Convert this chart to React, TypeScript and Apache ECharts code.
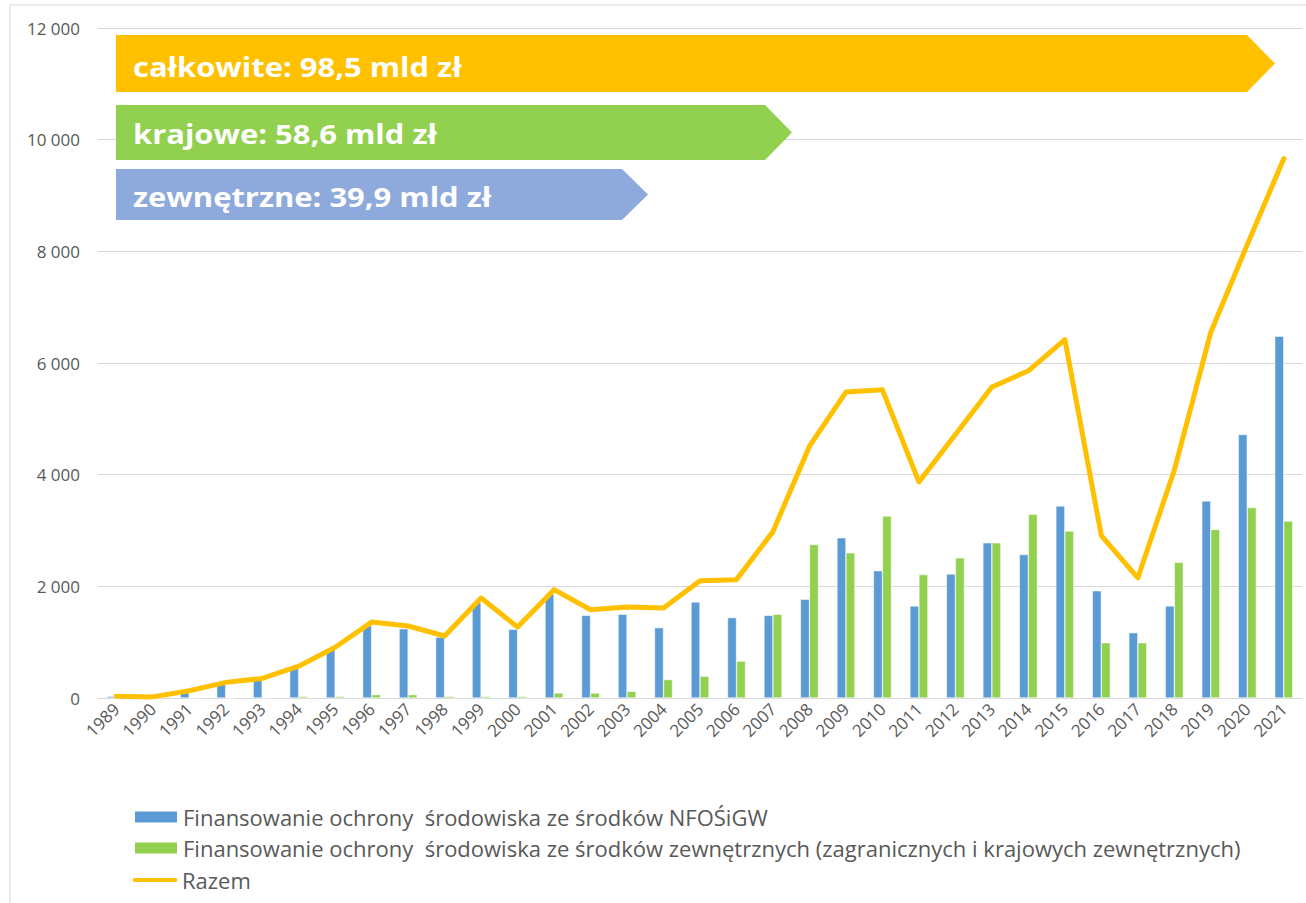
import React, { useEffect, useRef } from "react";
import * as echarts from "echarts";

const years = [
  "1989", "1990", "1991", "1992", "1993", "1994", "1995", "1996", "1997", "1998",
  "1999", "2000", "2001", "2002", "2003", "2004", "2005", "2006", "2007", "2008",
  "2009", "2010", "2011", "2012", "2013", "2014", "2015", "2016", "2017", "2018",
  "2019", "2020", "2021",
];

const nfosigw = [
  30, 10, 100, 270, 330, 560, 880, 1300, 1240, 1090,
  1710, 1230, 1860, 1480, 1500, 1260, 1720, 1440, 1480, 1770,
  2870, 2280, 1650, 2220, 2780, 2570, 3440, 1920, 1170, 1650,
  3530, 4720, 6480,
];

const zewnetrzne = [
  0, 0, 0, 0, 0, 30, 30, 60, 60, 30,
  30, 30, 90, 90, 120, 330, 390, 660, 1500, 2750,
  2600, 3260, 2210, 2510, 2780, 3290, 2990, 990, 990, 2430,
  3020, 3410, 3170,
];

const razem = [
  30, 20, 130, 280, 350, 570, 910, 1360, 1290, 1110,
  1790, 1270, 1940, 1580, 1630, 1610, 2100, 2120, 2980, 4510,
  5480, 5520, 3870, 4720, 5570, 5860, 6420, 2910, 2150, 4080,
  6550, 8120, 9660,
];

const seriesNames = [
  "Finansowanie ochrony  środowiska ze środków NFOŚiGW",
  "Finansowanie ochrony  środowiska ze środków zewnętrznych (zagranicznych i krajowych zewnętrznych)",
  "Razem",
];

const arrowLabels = [
  "całkowite: 98,5 mld zł",
  "krajowe: 58,6 mld zł",
  "zewnętrzne: 39,9 mld zł",
];

const FONT = "'Open Sans', 'Noto Sans', sans-serif";

function arrow(x0: number, y0: number, x1: number, tip: number, y1: number, color: string) {
  return {
    type: "polygon",
    shape: {
      points: [
        [x0, y0],
        [x1, y0],
        [tip, (y0 + y1) / 2],
        [x1, y1],
        [x0, y1],
      ],
    },
    style: { fill: color },
    z: 10,
  };
}

function label(text: string, x: number, y: number) {
  return {
    type: "text",
    x,
    y,
    scaleX: 1.19,
    style: {
      text,
      fill: "#ffffff",
      font: `bold 26px ${FONT}`,
      verticalAlign: "middle",
    },
    z: 11,
  };
}

function legendItem(name: string, top: number, icon: string, h: number) {
  return {
    orient: "vertical",
    left: 128,
    top,
    itemWidth: 44,
    itemHeight: h,
    selectedMode: false,
    textStyle: { fontSize: 22, color: "#595959", fontFamily: FONT },
    data: [{ name, icon }],
  };
}

export default function App() {
  const ref = useRef<HTMLDivElement>(null);

  useEffect(() => {
    document.body.style.margin = "0";
    if (!ref.current) return;
    const chart = echarts.init(ref.current, null, { renderer: "svg" });
    chart.setOption({
      animation: false,
      backgroundColor: "#ffffff",
      textStyle: { fontFamily: FONT },
      grid: { left: 98, right: 4, top: 28, bottom: 205, containLabel: false },
      legend: [
        legendItem(seriesNames[0], 801, "rect", 13),
        legendItem(seriesNames[1], 832, "rect", 13),
        legendItem(seriesNames[2], 864, "roundRect", 4),
      ],
      xAxis: {
        type: "category",
        data: years,
        axisLine: { lineStyle: { color: "#d9d9d9", width: 1 } },
        axisTick: { show: false },
        axisLabel: {
          rotate: 45,
          interval: 0,
          fontSize: 17,
          color: "#595959",
          fontFamily: FONT,
          margin: 8,
        },
      },
      yAxis: {
        type: "value",
        min: 0,
        max: 12000,
        interval: 2000,
        axisLine: { show: false },
        axisTick: { show: false },
        splitLine: { lineStyle: { color: "#d9d9d9", width: 1 } },
        axisLabel: {
          fontSize: 17,
          color: "#595959",
          fontFamily: FONT,
          margin: 18,
          formatter: (v: number) => String(v).replace(/\B(?=(\d{3})+(?!\d))/g, " "),
        },
      },
      series: [
        {
          name: seriesNames[0],
          type: "bar",
          data: nfosigw,
          barWidth: 9,
          barGap: "0%",
          itemStyle: { color: "#5B9BD5", borderColor: "#ffffff", borderWidth: 0.5 },
        },
        {
          name: seriesNames[1],
          type: "bar",
          data: zewnetrzne,
          barWidth: 9,
          barGap: "0%",
          itemStyle: { color: "#92D050", borderColor: "#ffffff", borderWidth: 0.5 },
        },
        {
          name: seriesNames[2],
          type: "line",
          data: razem,
          symbol: "none",
          lineStyle: { color: "#FFC000", width: 5, join: "round", cap: "round" },
          itemStyle: { color: "#FFC000" },
          z: 5,
        },
      ],
      graphic: [
        {
          type: "rect",
          shape: { x: 10, y: 5, width: 1320, height: 940 },
          style: { fill: "none", stroke: "#d9d9d9", lineWidth: 1 },
          silent: true,
          z: 0,
        },
        arrow(116, 35, 1247, 1275, 92, "#FFC000"),
        arrow(116, 105, 765, 792, 160, "#92D050"),
        arrow(116, 169, 622, 648, 220, "#8EA9DB"),
        label(arrowLabels[0], 133, 67),
        label(arrowLabels[1], 133, 134),
        label(arrowLabels[2], 133, 197),
      ],
    });
    return () => chart.dispose();
  }, []);

  return <div ref={ref} style={{ width: 1306, height: 903 }} />;
}
